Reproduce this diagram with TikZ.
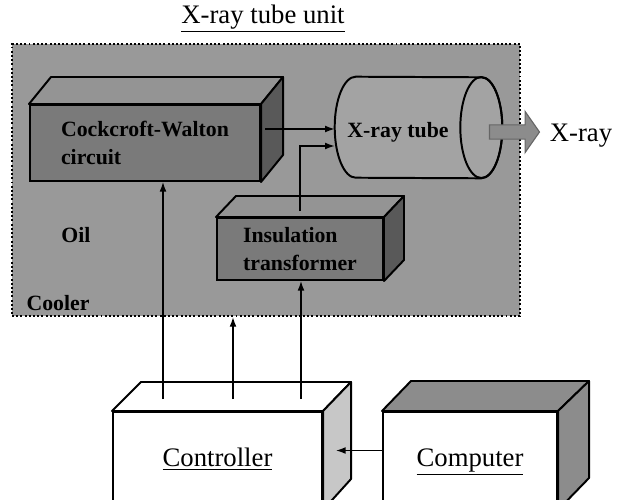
\documentclass[tikz,border=0pt]{standalone}
\usepackage{fontspec}
\setmainfont{Liberation Serif}
\usetikzlibrary{positioning, arrows.meta, shapes.arrows, calc}

\begin{document}
\begin{tikzpicture}[
        x=0.025cm, y=-0.025cm,
        >={Latex[length=2.4mm, width=1.7mm]},
        conn/.style={->, line width=0.9pt},
        front/.style={draw, line width=1.4pt, rectangle, inner sep=0pt, align=left, font=\fontsize{15.5}{19.5}\selectfont\bfseries},
        face/.style={draw, line width=1.4pt, line join=round},
        inlabel/.style={font=\fontsize{15.5}{19.5}\selectfont\bfseries},
        biglabel/.style={font=\fontsize{19}{22}\selectfont}
    ]
    \useasboundingbox (0,0) rectangle (617,499);
    \clip (0,0) rectangle (617,499);

    % --- X-ray tube unit ---
    \node[biglabel] (title) at (263,19) {\underline{X-ray tube unit}};
    \node[draw, line width=1.5pt, dash pattern=on 1.4pt off 1.6pt, fill=black!40, minimum width=12.7cm, minimum height=6.8cm, inner sep=0pt] (cooler) at (266,180) {};
    \node[inlabel] (oil) at (76,235) {Oil};
    \node[inlabel] (coolerlabel) at (58,303) {Cooler};

    % Cockcroft-Walton circuit
    \node[front, fill=black!52, minimum width=5.75cm, minimum height=1.9cm] (cw) at (145,143) {Cockcroft-Walton\\circuit};
    \draw[face, fill=black!42] (cw.north west) -- ++(22,-27) -- ($(cw.north east)+(22,-27)$) -- (cw.north east) -- cycle;
    \draw[face, fill=black!65] (cw.north east) -- ++(22,-27) -- ($(cw.south east)+(22,-27)$) -- (cw.south east) -- cycle;

    % Insulation transformer
    \node[front, fill=black!52, minimum width=4.15cm, minimum height=1.55cm] (trafo) at (300,249) {Insulation\\transformer};
    \draw[face, fill=black!42] (trafo.north west) -- ++(20,-21) -- ($(trafo.north east)+(20,-21)$) -- (trafo.north east) -- cycle;
    \draw[face, fill=black!65] (trafo.north east) -- ++(20,-21) -- ($(trafo.south east)+(20,-21)$) -- (trafo.south east) -- cycle;

    % X-ray tube
    \node[minimum width=4.175cm, minimum height=2.525cm, inner sep=0pt] (tube) at (418.5,127.5) {};
    \draw[face, fill=black!36] ($(tube.north west)+(21,0)$) arc[start angle=270, end angle=90, x radius=21, y radius=50.5] -- ($(tube.south east)+(-21,0)$) arc[start angle=90, end angle=-90, x radius=21, y radius=50.5] -- cycle;
    \draw[face] ($(tube.east)+(-21,0)$) ellipse[x radius=21, y radius=50.5];
    \node[inlabel] (tubelabel) at (398,132) {X-ray tube};

    \node[single arrow, draw=black!60, line width=0.8pt, fill=black!45, minimum height=1.25cm, inner xsep=0pt, inner ysep=0.1625cm, single arrow head extend=0.3375cm, single arrow tip angle=110] (beam) at (512,132) {};
    \node[biglabel] (xray) at (581,136) {X-ray};

    % --- Controller & Computer ---
    \node[front, fill=white, font=\fontsize{19}{22}\selectfont, minimum width=5.225cm, minimum height=2.425cm] (ctrl) at (217.5,460.5) {\underline{Controller}\strut};
    \draw[face, fill=white] (ctrl.north west) -- ++(29,-29) -- ($(ctrl.north east)+(28,-29)$) -- (ctrl.north east) -- cycle;
    \draw[face, fill=black!22] (ctrl.north east) -- ++(28,-29) -- ++(0,97) -- (ctrl.south east) -- cycle;

    \node[front, fill=white, font=\fontsize{19}{22}\selectfont, minimum width=4.35cm, minimum height=2.425cm] (comp) at (470,460.5) {\underline{Computer}\strut};
    \draw[face, fill=black!45] (comp.north west) -- ++(29,-30) -- ($(comp.north east)+(31,-30)$) -- (comp.north east) -- cycle;
    \draw[face, fill=black!45] (comp.north east) -- ++(31,-30) -- ++(0,97) -- (comp.south east) -- cycle;

    % --- Edges ---
    \draw[conn] ($(cw.north east)+(4,25)$) coordinate (cwout) -- (cwout -| tube.west);
    \draw[conn] ($(trafo.north)+(0,-6)$) |- ($(tube.west)+(0,18.5)$);

    \draw[conn] ($(ctrl.north)+(-54.5,-12)$) coordinate (c1) -- (c1 |- cw.south);
    \draw[conn] ($(ctrl.north)+(15.5,-12)$) coordinate (c2) -- (c2 |- cooler.south);
    \draw[conn] ($(ctrl.north)+(83.5,-12)$) coordinate (c3) -- (c3 |- trafo.south);
    \draw[conn] ($(comp.west)+(0,-10)$) -- ($(ctrl.east)+(13,-10)$);

\end{tikzpicture}
\end{document}
